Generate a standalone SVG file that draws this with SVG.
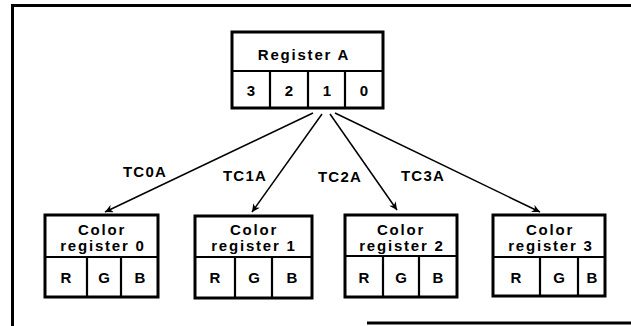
<svg xmlns="http://www.w3.org/2000/svg" width="631" height="326" viewBox="0 0 631 326">
<style>
.frame{stroke:#000;stroke-width:3;fill:none}
.box{fill:#fff;stroke:#000;stroke-width:3}
.div{stroke:#000;stroke-width:2.2;fill:none}
.t{font-family:"Liberation Sans",Arial,sans-serif;font-size:15px;font-weight:bold;fill:#000;text-anchor:middle}
.lbl{font-family:"Liberation Sans",Arial,sans-serif;font-size:15px;font-weight:bold;fill:#000;text-anchor:middle;letter-spacing:1.2px}
.wide{letter-spacing:1.8px}
.conn{stroke:#000;stroke-width:1.5;fill:none}
</style>
<defs>
<marker id="ah" viewBox="0 0 10 10" refX="10" refY="5" markerWidth="10" markerHeight="8" markerUnits="userSpaceOnUse" orient="auto">
<path d="M0,0 L10,5 L0,10 L3,5 Z" fill="#000"/>
</marker>
</defs>
<g id="frame">
<path class="frame" d="M12.5,326 V5.5 H631"/>
<path class="frame" d="M367,323 H631" stroke-width="2"/>
</g>
<g id="registerA">
<rect class="box" x="232" y="32" width="151" height="76"/>
<path class="div" d="M232,71 H383 M270,71 V108 M308,71 V108 M345,71 V108"/>
<text class="t wide" x="304" y="60">Register A</text>
<text class="t" x="251" y="96">3</text>
<text class="t" x="289" y="96">2</text>
<text class="t" x="327" y="96">1</text>
<text class="t" x="364" y="96">0</text>
</g>
<g id="color0">
<rect class="box" x="45" y="215" width="113" height="82"/>
<path class="div" d="M45,257 H158 M87,257 V297 M121,257 V297"/>
<text class="t wide" x="102" y="235">Color</text>
<text class="t wide" x="103" y="251">register 0</text>
<text class="t" x="66" y="283">R</text>
<text class="t" x="104" y="283">G</text>
<text class="t" x="140" y="283">B</text>
</g>
<g id="color1">
<rect class="box" x="195" y="216" width="117" height="82"/>
<path class="div" d="M195,257 H312 M235,257 V298 M272,257 V298"/>
<text class="t wide" x="254" y="235">Color</text>
<text class="t wide" x="254" y="251">register 1</text>
<text class="t" x="215" y="283">R</text>
<text class="t" x="254" y="283">G</text>
<text class="t" x="292" y="283">B</text>
</g>
<g id="color2">
<rect class="box" x="345" y="215" width="112" height="82"/>
<path class="div" d="M345,256 H457 M383,256 V297 M419,256 V297"/>
<text class="t wide" x="401" y="235">Color</text>
<text class="t wide" x="402" y="251">register 2</text>
<text class="t" x="364" y="283">R</text>
<text class="t" x="401" y="283">G</text>
<text class="t" x="438" y="283">B</text>
</g>
<g id="color3">
<rect class="box" x="493" y="215" width="112" height="81"/>
<path class="div" d="M493,257 H605 M540,257 V296 M578,257 V296"/>
<text class="t wide" x="550" y="235">Color</text>
<text class="t wide" x="551" y="251">register 3</text>
<text class="t" x="516" y="283">R</text>
<text class="t" x="559" y="283">G</text>
<text class="t" x="592" y="283">B</text>
</g>
<g id="connectors">
<line class="conn" x1="313" y1="113" x2="105" y2="212" marker-end="url(#ah)"/>
<line class="conn" x1="322" y1="114" x2="252" y2="212" marker-end="url(#ah)"/>
<line class="conn" x1="330" y1="114" x2="397" y2="210" marker-end="url(#ah)"/>
<line class="conn" x1="335" y1="113" x2="540" y2="212" marker-end="url(#ah)"/>
<text class="lbl" x="145" y="177">TC0A</text>
<text class="lbl" x="245" y="181">TC1A</text>
<text class="lbl" x="340" y="182">TC2A</text>
<text class="lbl" x="423" y="181">TC3A</text>
</g>
</svg>
